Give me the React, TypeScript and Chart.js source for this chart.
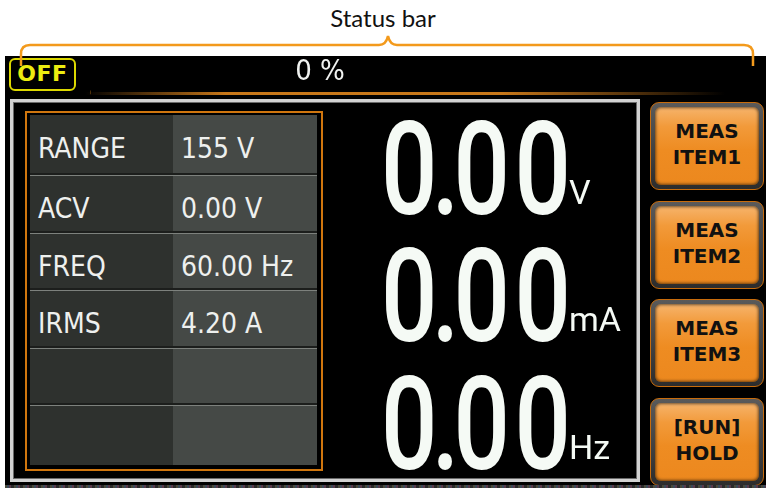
import React, { useEffect, useRef } from "react";
import { Chart, registerables } from "chart.js";

Chart.register(...registerables);

// ---- data ----
const annotationLabel = "Status bar";
const outputState = "OFF";
const loadPercent = [0];
const loadCategory = ["Load"];
const tableLabels = ["RANGE", "ACV", "FREQ", "IRMS", "", ""];
const tableValues = ["155 V", "0.00 V", "60.00 Hz", "4.20 A", "", ""];
const readingValues = ["0.00", "0.00", "0.00"];
const readingUnits = ["V", "mA", "Hz"];
const buttonLine1 = ["MEAS", "MEAS", "MEAS", "[RUN]"];
const buttonLine2 = ["ITEM1", "ITEM2", "ITEM3", "HOLD"];

const COND = "'DejaVu Sans Condensed', 'DejaVu Sans', sans-serif";
const BOLD = "'DejaVu Sans', sans-serif";

export default function App() {
  const canvasRef = useRef<HTMLCanvasElement | null>(null);

  useEffect(() => {
    document.body.style.margin = "0";
    const chart = new Chart(canvasRef.current as HTMLCanvasElement, {
      type: "bar",
      data: {
        labels: loadCategory,
        datasets: [
          {
            data: loadPercent,
            backgroundColor: "#e08a1e",
            barThickness: 3,
          },
        ],
      },
      options: {
        indexAxis: "y",
        animation: false,
        responsive: false,
        maintainAspectRatio: false,
        layout: { padding: 0 },
        plugins: {
          legend: { display: false },
          tooltip: { enabled: false },
          title: {
            display: true,
            text: `${loadPercent[0]} %`,
            color: "#f0f2f0",
            font: { family: COND, size: 29, weight: "normal", lineHeight: 1.2 },
            padding: 0,
          },
        },
        scales: {
          x: { display: false, min: 0, max: 100 },
          y: { display: false },
        },
      },
    });
    return () => chart.destroy();
  }, []);

  const rowHeights = [58, 58, 57, 58, 57, 62];
  const readingTops = [120, 247, 375];
  const buttonTops = [102, 200.5, 299, 397.5];

  return (
    <div
      style={{
        position: "fixed",
        left: 0,
        top: 0,
        width: 766,
        height: 488,
        background: "#ffffff",
        overflow: "hidden",
      }}
    >
      {/* annotation label */}
      <div
        style={{
          position: "absolute",
          left: 283,
          width: 200,
          top: 3,
          textAlign: "center",
          font: "24px Lato, sans-serif",
          lineHeight: "30px",
          color: "#111",
        }}
      >
        {annotationLabel}
      </div>

      {/* black screen */}
      <div
        style={{
          position: "absolute",
          left: 5,
          top: 56,
          width: 761,
          height: 432,
          background: "#000",
        }}
      />

      {/* OFF box */}
      <div
        style={{
          position: "absolute",
          left: 9,
          top: 58,
          width: 67,
          height: 33,
          boxSizing: "border-box",
          border: "2.5px solid #dcd800",
          borderRadius: 6,
          color: "#ecec10",
          font: `bold 22px ${BOLD}`,
          letterSpacing: "0.5px",
          lineHeight: "28px",
          textAlign: "center",
        }}
      >
        {outputState}
      </div>

      {/* load chart (status bar) */}
      <canvas
        ref={canvasRef}
        width={460}
        height={40}
        style={{ position: "absolute", left: 90, top: 55, width: 460, height: 40 }}
      />

      {/* orange gradient line */}
      <div
        style={{
          position: "absolute",
          left: 85,
          top: 92,
          width: 640,
          height: 3,
          background:
            "linear-gradient(90deg, rgba(200,120,20,0) 0%, #c8781a 22%, #c8781a 65%, rgba(200,120,20,0) 100%)",
        }}
      />

      {/* silver frame */}
      <div
        style={{
          position: "absolute",
          left: 10,
          top: 99,
          width: 630,
          height: 383,
          boxSizing: "border-box",
          border: "3px solid #d2d2d2",
          boxShadow: "inset 0 0 0 1px #6a6a6a",
        }}
      />

      {/* orange box + table */}
      <div
        style={{
          position: "absolute",
          left: 25,
          top: 111,
          width: 298,
          height: 360,
          boxSizing: "border-box",
          border: "2px solid #d0760e",
        }}
      />
      <div style={{ position: "absolute", left: 30, top: 115, width: 287, height: 350 }}>
        {tableLabels.map((lab, i) => (
          <div key={i} style={{ display: "flex", height: rowHeights[i] }}>
            {[lab, tableValues[i]].map((txt, j) => (
              <div
                key={j}
                style={{
                  position: "relative",
                  width: j === 0 ? 143 : 144,
                  height: "100%",
                  background: j === 0 ? "#2e312e" : "#454946",
                  boxShadow: i > 0 ? "inset 0 2px 0 #1c1e1c, inset 0 3px 0 #7d817d" : "none",
                }}
              >
                <span
                  style={{
                    position: "absolute",
                    left: 8,
                    top: i === 0 ? 17 : 19,
                    lineHeight: "28px",
                    font: `28px ${COND}`,
                    fontStretch: "condensed",
                    color: "#eef0ee",
                    whiteSpace: "nowrap",
                  }}
                >
                  {txt}
                </span>
              </div>
            ))}
          </div>
        ))}
      </div>

      {/* big readings */}
      {readingValues.map((val, r) => {
        const chars = val.split("");
        return (
          <div
            key={r}
            style={{
              position: "absolute",
              left: 381,
              top: readingTops[r],
              display: "flex",
              alignItems: "baseline",
              color: "#f5faf5",
              fontFamily: "Roboto, sans-serif",
              whiteSpace: "nowrap",
            }}
          >
            <span
              style={{
                display: "inline-block",
                fontSize: 129,
                fontWeight: 500,
                lineHeight: "100px",
                transform: "scaleX(0.77)",
                transformOrigin: "left center",
                width: 188,
              }}
            >
              {chars.map((ch, k) => (
                <span
                  key={k}
                  style={{
                    display: "inline-block",
                    lineHeight: "100px",
                    letterSpacing:
                      ch === "." || chars[k + 1] === "."
                        ? "-7.5px"
                        : k === chars.length - 1
                        ? "0px"
                        : "5.8px",
                  }}
                >
                  {ch}
                </span>
              ))}
            </span>
            <span
              style={{
                position: "relative",
                top: -10,
                fontSize: 34,
                lineHeight: "34px",
                marginLeft: 0,
              }}
            >
              {readingUnits[r]}
            </span>
          </div>
        );
      })}

      {/* soft keys */}
      {buttonLine1.map((l1, b) => (
        <div
          key={b}
          style={{
            position: "absolute",
            left: 650,
            top: buttonTops[b],
            width: 114,
            height: 88,
            boxSizing: "border-box",
            borderRadius: 9,
            border: "1px solid #c86c0c",
            background: "linear-gradient(#5a5a5a, #2c2c2c)",
            padding: 4,
          }}
        >
          <div
            style={{
              width: "100%",
              height: "100%",
              boxSizing: "border-box",
              borderRadius: 6,
              background:
                "linear-gradient(#f6b46c 0%, #f29a3a 25%, #ee8c22 55%, #ec881e 100%)",
              boxShadow: "inset 0 0 3px 1px rgba(0,0,0,0.55)",
              display: "flex",
              flexDirection: "column",
              justifyContent: "center",
              alignItems: "center",
              font: `bold 20px ${BOLD}`,
              lineHeight: "26px",
              color: "#111",
              paddingBottom: 4,
            }}
          >
            <div>{l1}</div>
            <div>{buttonLine2[b]}</div>
          </div>
        </div>
      ))}

      {/* bottom noise strip */}
      <div
        style={{
          position: "absolute",
          left: 5,
          top: 485,
          width: 761,
          height: 3,
          background:
            "repeating-linear-gradient(90deg, #4a4a3a 0 2px, #3a4a5a 2px 4px, #5a3a4a 4px 6px, #2a2a2a 6px 9px)",
        }}
      />

      {/* brace annotation */}
      <svg
        width={766}
        height={80}
        style={{ position: "absolute", left: 0, top: 0, overflow: "visible" }}
      >
        <path
          d="M21 66 V54 Q21 45 30 45 H379 Q386 45 388 36 Q390 45 397 45 H744 Q753 45 753 54 V66"
          fill="none"
          stroke="#f39a1c"
          strokeWidth={2.5}
        />
      </svg>
    </div>
  );
}
